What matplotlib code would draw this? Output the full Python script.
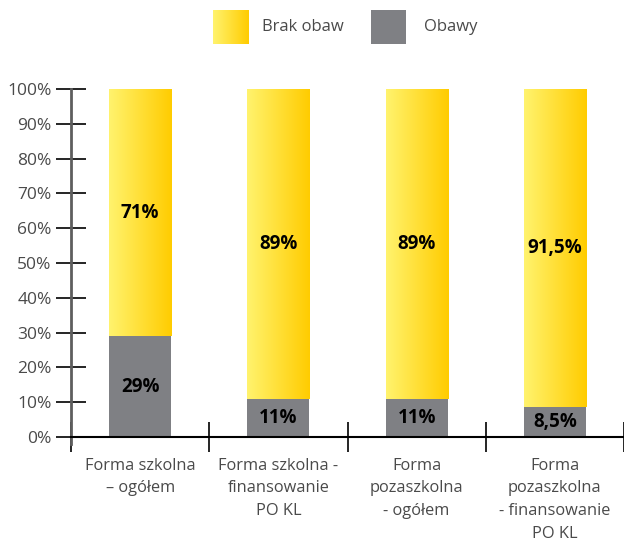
import numpy as np
import matplotlib.pyplot as plt
from matplotlib.colors import LinearSegmentedColormap

plt.rcParams['font.family'] = ['Open Sans', 'DejaVu Sans']

# Data
categories = ["Forma szkolna\n– ogółem",
              "Forma szkolna -\nfinansowanie\nPO KL",
              "Forma\npozaszkolna\n- ogółem",
              "Forma\npozaszkolna\n- finansowanie\nPO KL"]
obawy = [29, 11, 11, 8.5]
brak_obaw = [71, 89, 89, 91.5]
obawy_labels = ["29%", "11%", "11%", "8,5%"]
brak_labels = ["71%", "89%", "89%", "91,5%"]

gray = "#7f8084"
yellow = LinearSegmentedColormap.from_list("yel", ["#fff36e", "#ffcc00"])
grad = np.linspace(0, 1, 256).reshape(1, -1)

fig = plt.figure(figsize=(6.24, 5.42), dpi=100)
ax = fig.add_axes([71/624, 1 - 437/542, 553/624, 348/542])

x = np.arange(len(categories))
w = 0.45
ax.bar(x, obawy, width=w, color=gray, zorder=2)
top = ax.bar(x, brak_obaw, width=w, bottom=obawy, color="none", zorder=2)

# Horizontal gradient fill for the yellow segments
for p in top.patches:
    x0, y0 = p.get_x(), p.get_y()
    im = ax.imshow(grad, cmap=yellow, aspect="auto", zorder=2,
                   extent=[x0, x0 + p.get_width(), y0, y0 + p.get_height()])
    im.set_clip_path(p)

for i in range(len(x)):
    ax.text(x[i], obawy[i] / 2, obawy_labels[i], ha="center", va="center",
            fontsize=13.5, fontweight="bold", color="black", zorder=3)
    ax.text(x[i], obawy[i] + brak_obaw[i] / 2, brak_labels[i], ha="center",
            va="center", fontsize=13.5, fontweight="bold", color="black", zorder=3)

ax.set_xlim(-0.5, len(x) - 0.5)
ax.set_ylim(0, 100)
ax.set_yticks(range(0, 101, 10))
ax.set_yticklabels([f"{v}%" for v in range(0, 101, 10)], fontsize=12.5, color="#4a4a4a")
ax.tick_params(axis="y", direction="inout", length=22, width=1.2, color="black", pad=3)

ax.set_xticks(np.arange(-0.5, len(x)), minor=False)
ax.set_xticklabels([])
ax.tick_params(axis="x", direction="inout", length=22, width=1.2, color="black")
ax.set_xticks(x, minor=True)
ax.set_xticklabels(categories, minor=True, fontsize=11.8, color="#4a4a4a", linespacing=1.55)
ax.tick_params(axis="x", which="minor", length=0, pad=15)

for s in ["top", "right"]:
    ax.spines[s].set_visible(False)
ax.spines["left"].set_color("#5e5e5e")
ax.spines["left"].set_linewidth(2)
ax.spines["left"].set_bounds(-2, 100)
ax.spines["bottom"].set_color("black")
ax.spines["bottom"].set_linewidth(1.5)
ax.set_clip_on(False)

# Legend squares
lax1 = fig.add_axes([213/624, 1 - 44/542, 35/624, 34/542])
lax1.imshow(grad, cmap=yellow, aspect="auto")
lax1.axis("off")
lax2 = fig.add_axes([371/624, 1 - 44/542, 35/624, 34/542])
lax2.set_facecolor(gray)
lax2.set_xticks([]); lax2.set_yticks([])
for s in lax2.spines.values():
    s.set_visible(False)
fig.text(262/624, 1 - 27/542, "Brak obaw", fontsize=12, color="#4a4a4a", va="center")
fig.text(424/624, 1 - 27/542, "Obawy", fontsize=12, color="#4a4a4a", va="center")

fig.savefig("out.png", dpi=100)
